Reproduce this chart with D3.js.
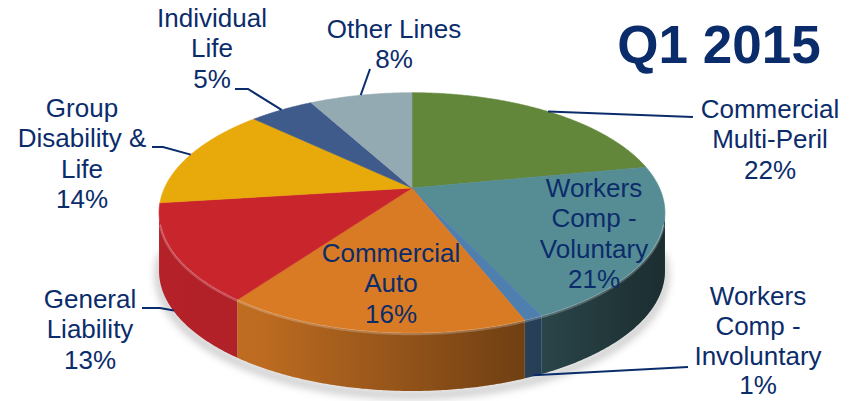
<!DOCTYPE html>
<html>
<head>
<meta charset="utf-8">
<script src="https://cdn.jsdelivr.net/npm/d3@7"></script>
<style>
  html, body { margin: 0; padding: 0; background: #fff; }
  svg { display: block; }
  text { font-family: "Liberation Sans", Arial, sans-serif; fill: #0b2c6b; }
</style>
</head>
<body>
<svg id="chart" width="859" height="401"></svg>
<script>
// Premium mix by line of business, Q1 2015 (percent)
const categories = [
  "Commercial\nMulti-Peril",
  "Workers\nComp -\nVoluntary",
  "Workers\nComp -\nInvoluntary",
  "Commercial\nAuto",
  "General\nLiability",
  "Group\nDisability &\nLife",
  "Individual\nLife",
  "Other Lines"
];
const values = [22, 21, 1, 16, 13, 14, 5, 8];
const palette = ["#62873a", "#568d95", "#4e7fae", "#d97b25", "#c9252d", "#e8a90b", "#3f5b8b", "#93aab3"];
const title = "Q1 2015";

// Label placement: centre x, first baseline, line height, optional leader stub points
const labelLayout = [
  { x: 770, y: 118, lh: 30.3, stub: [[693, 117]] },
  { x: 594, y: 197, lh: 30.3, stub: null },
  { x: 758, y: 305, lh: 29.8, stub: [[688, 367]] },
  { x: 391, y: 262, lh: 30.3, stub: null },
  { x: 90,  y: 308, lh: 30.3, stub: [[142, 308], [160, 308]] },
  { x: 82,  y: 117, lh: 30.3, stub: [[152, 147], [163, 147]] },
  { x: 212, y: 27,  lh: 30.3, stub: [[235, 89], [248, 89]] },
  { x: 394, y: 38,  lh: 30.3, stub: [[370, 69]] }
];

const svg = d3.select("#chart");
const defs = svg.append("defs");

// Perspective projection of the pie plane onto the screen
const cx = 412, cy = 188, A = 247.5, B = 115, k = 0.2067, depth = 58;
function proj(theta, r = 1, dy = 0) {
  const u = r * Math.sin(theta), v = r * Math.cos(theta), w = 1 + k * v;
  return [cx + A * u / w, cy - B * v / w + dy];
}
const deg = Math.PI / 180;
// silhouette tangents of the wall (front half)
const frontStart = Math.acos(-k), frontEnd = 2 * Math.PI - Math.acos(-k);

const pie = d3.pie().sort(null).value(d => d)(values);
const line = d3.line();

function arcPoints(a0, a1, dy = 0) {
  const n = Math.max(2, Math.ceil((a1 - a0) / (0.5 * deg)));
  return d3.range(n + 1).map(i => proj(a0 + (a1 - a0) * i / n, 1, dy));
}

// shading gradient for the wall
const shade = defs.append("linearGradient").attr("id", "wallShade")
  .attr("gradientUnits", "userSpaceOnUse")
  .attr("x1", 160).attr("x2", 665).attr("y1", 0).attr("y2", 0);
shade.append("stop").attr("offset", 0).attr("stop-color", "#000").attr("stop-opacity", 0.1);
shade.append("stop").attr("offset", 0.2).attr("stop-color", "#000").attr("stop-opacity", 0.13);
shade.append("stop").attr("offset", 1).attr("stop-color", "#000").attr("stop-opacity", 0.68);

const blur = defs.append("filter").attr("id", "soft").attr("x", "-20%").attr("y", "-20%").attr("width", "140%").attr("height", "140%");
blur.append("feGaussianBlur").attr("stdDeviation", 4);

// drop shadow under the pie
svg.append("path")
  .attr("d", line(arcPoints(frontStart - 10 * deg, frontEnd + 10 * deg, depth + 4)) )
  .attr("fill", "none").attr("stroke", "#000").attr("stroke-opacity", 0.28)
  .attr("stroke-width", 6).attr("filter", "url(#soft)");

// outer walls
const walls = svg.append("g");
pie.forEach((s, i) => {
  const a0 = Math.max(s.startAngle, frontStart), a1 = Math.min(s.endAngle, frontEnd);
  if (a1 <= a0) return;
  const top = arcPoints(a0, a1, 0);
  const bottom = arcPoints(a0, a1, depth).reverse();
  const d = line(top.concat(bottom)) + "Z";
  walls.append("path").attr("d", d).attr("fill", palette[i]);
  walls.append("path").attr("d", d).attr("fill", "url(#wallShade)");
});

// top faces
const tops = svg.append("g");
pie.forEach((s, i) => {
  const pts = [[cx, cy]].concat(arcPoints(s.startAngle, s.endAngle, 0));
  tops.append("path").attr("d", line(pts) + "Z").attr("fill", palette[i])
    .attr("stroke", palette[i]).attr("stroke-width", 0.6);
});
// light rim along the front edge of the top
svg.append("path")
  .attr("d", line(arcPoints(frontStart + 5 * deg, frontEnd - 5 * deg, 1)))
  .attr("fill", "none").attr("stroke", "#fff").attr("stroke-opacity", 0.22).attr("stroke-width", 2.5);

// leader lines
const leaders = svg.append("g").attr("fill", "none").attr("stroke", "#0b2c6b").attr("stroke-width", 2);
pie.forEach((s, i) => {
  const L = labelLayout[i];
  if (!L.stub) return;
  const mid = (s.startAngle + s.endAngle) / 2;
  const onFront = mid > frontStart && mid < frontEnd;
  const end = proj(mid, 1.0, onFront ? depth - 1 : 0);
  leaders.append("path").attr("d", line(L.stub.concat([end])));
});

// labels
const fs = 26;
pie.forEach((s, i) => {
  const L = labelLayout[i];
  const lines = categories[i].split("\n").concat([values[i] + "%"]);
  const t = svg.append("text").attr("text-anchor", "middle").attr("font-size", fs);
  lines.forEach((txt, j) => {
    t.append("tspan").attr("x", L.x).attr("y", L.y + j * L.lh).text(txt);
  });
});

svg.append("text").attr("x", 719).attr("y", 63).attr("text-anchor", "middle")
  .attr("font-size", 53).attr("font-weight", "bold").text(title);
</script>
</body>
</html>
